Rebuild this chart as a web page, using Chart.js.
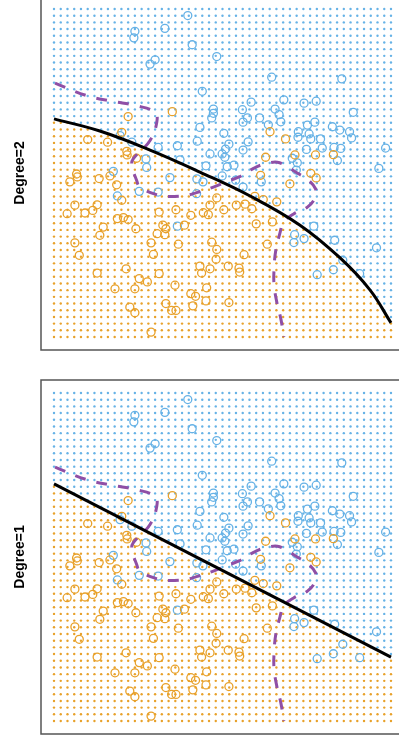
<!DOCTYPE html>
<html>
<head>
<meta charset="utf-8">
<script src="https://cdn.jsdelivr.net/npm/chart.js@4.4.1/dist/chart.umd.min.js"></script>
<style>
  html, body { margin: 0; padding: 0; background: #fff; overflow: hidden; width: 399px; height: 743px; }
  .panel { position: absolute; left: 0; width: 420px; height: 370px; }
  .label {
    position: absolute; white-space: nowrap; color: #000;
    font: bold 14px "Liberation Sans", Arial, sans-serif;
    transform: translate(-50%, -50%) rotate(-90deg);
  }
</style>
</head>
<body>
<div class="panel" style="top:-12px"><canvas id="deg2" width="420" height="370"></canvas></div>
<div class="panel" style="top:372px"><canvas id="deg1" width="420" height="370"></canvas></div>
<div class="label" style="left:19px;top:173px">Degree=2</div>
<div class="label" style="left:19px;top:557px">Degree=1</div>
<script>
const ORANGE = '#E8A12A';
const BLUE = '#66B2E6';
const PURPLE = '#8F4FA6';

// training observations, class "blue"
const blueX = [39.7, 32.9, 24.0, 23.7, 41.0, 48.3, 30.0, 28.5, 44.0, 47.3, 47.3, 46.8, 43.3, 19.6, 23.1,
  30.9, 36.6, 42.5, 46.3, 37.4, 27.3, 27.5, 45.1, 17.6, 64.6, 85.4, 68.2, 58.5, 74.2, 77.8, 55.9, 65.6,
  88.8, 66.8, 57.4, 61.0, 56.1, 67.3, 63.6, 75.2, 77.4, 82.6, 84.8, 87.7, 50.4, 72.5, 75.7, 72.4, 76.2,
  79.1, 88.3, 57.6, 51.9, 50.9, 49.9, 50.7, 56.1, 74.9, 79.6, 83.1, 85.1, 98.4, 84.1, 70.7, 72.2, 71.9,
  96.4, 53.4, 51.4, 34.4, 25.3, 30.9, 18.8, 42.4, 44.2, 42.3, 36.6, 49.9, 53.9, 56.1, 61.5, 77.1, 71.4,
  74.2, 71.2, 83.3, 95.7, 85.7, 82.9, 90.7, 78.1];
const blueY = [98.0, 94.1, 93.2, 91.2, 89.1, 85.5, 84.5, 83.2, 74.9, 69.5, 68.2, 66.8, 63.9, 61.4, 59.4,
  57.8, 58.3, 59.7, 55.8, 54.0, 54.3, 51.7, 52.2, 50.5, 79.2, 78.7, 72.3, 71.6, 71.3, 71.9, 69.3, 69.5,
  68.5, 67.8, 66.8, 66.8, 65.5, 65.6, 64.7, 64.6, 65.5, 64.1, 63.1, 62.6, 62.1, 62.6, 61.9, 60.9, 60.4,
  60.4, 60.7, 59.5, 58.8, 57.3, 55.8, 54.8, 57.0, 57.2, 57.6, 57.8, 57.5, 57.6, 53.8, 54.5, 53.1, 50.9,
  51.4, 52.4, 51.9, 48.6, 44.4, 44.2, 43.0, 48.2, 47.3, 43.7, 33.8, 49.1, 47.8, 45.7, 47.3, 33.8, 31.2,
  30.0, 28.8, 29.5, 27.2, 23.4, 20.5, 19.3, 19.0];

// training observations, class "orange"
const orangeX = [35.1, 22.0, 20.1, 10.0, 15.9, 21.6, 21.7, 24.5, 6.7, 64.1, 68.7, 62.8, 71.5, 77.6, 82.9,
  76.2, 4.7, 6.9, 13.4, 16.6, 18.6, 20.1, 6.2, 3.9, 9.2, 11.5, 12.8, 18.8, 20.6, 22.0, 31.2, 36.2, 40.6,
  44.3, 45.8, 46.3, 48.3, 14.6, 24.3, 32.3, 33.2, 30.6, 32.9, 38.7, 13.6, 6.2, 28.8, 36.9, 46.8, 7.5,
  29.5, 48.3, 48.1, 21.4, 43.3, 43.8, 46.3, 12.8, 31.2, 25.3, 27.7, 35.9, 24.0, 18.1, 45.3, 40.6, 42.0,
  45.1, 33.2, 41.2, 22.5, 24.0, 34.9, 36.2, 28.8, 61.3, 77.8, 70.0, 59.6, 62.1, 66.1, 54.1, 56.7, 58.7,
  50.4, 60.0, 64.8, 63.3, 56.4, 51.7, 54.9, 55.1, 51.9];
const orangeY = [68.7, 67.2, 62.4, 60.2, 59.4, 56.6, 55.5, 54.5, 49.7, 62.6, 60.4, 54.8, 55.5, 55.5, 55.6,
  49.9, 47.3, 48.8, 48.3, 49.1, 46.4, 41.7, 40.2, 37.6, 37.8, 38.6, 40.3, 36.1, 36.4, 35.8, 38.1, 38.8, 37.1,
  37.9, 37.3, 40.2, 42.4, 33.5, 33.0, 34.1, 33.0, 31.5, 31.2, 34.1, 31.0, 28.7, 28.7, 28.3, 28.9, 24.9,
  25.2, 26.7, 23.7, 20.8, 21.6, 19.5, 20.8, 19.5, 19.3, 17.8, 16.8, 15.8, 14.7, 14.7, 15.0, 13.2, 12.4,
  11.0, 10.2, 9.5, 9.1, 7.4, 8.1, 8.1, 1.5, 49.3, 48.5, 46.7, 42.9, 41.9, 41.2, 40.2, 40.5, 39.1,
  38.8, 34.5, 35.1, 28.3, 25.1, 21.6, 21.0, 19.8, 10.5];

// Bayes decision boundary
const bayesX = [0.3, 9.7, 17.1, 24.5, 30.0, 30.5, 28.5, 23.5, 23.1, 24.5, 25.5, 30.9, 32.9, 38.4, 42.3,
  47.3, 52.4, 54.9, 58.8, 62.3, 66.3, 68.7, 72.7, 75.1, 77.6, 77.6, 75.2, 71.2, 68.2, 67.0, 65.8, 65.3,
  65.3, 66.3, 67.3, 68.2];
const bayesY = [77.4, 73.6, 71.9, 70.5, 68.5, 65.5, 59.9, 54.3, 52.2, 47.8, 45.7, 43.2, 42.9, 43.0, 44.0,
  45.7, 47.8, 48.8, 51.2, 52.7, 53.3, 52.2, 49.7, 48.2, 45.2, 42.7, 39.6, 37.6, 35.1, 31.5, 26.4, 20.8,
  15.8, 9.7, 5.6, 0.0];

// logistic regression boundaries
const fit1X = [0, 100];
const fit1Y = [72.3, 19.5];
const fit2X = [0, 13.6, 28.5, 43.3, 58.2, 73.0, 84.9, 93.8, 100];
const fit2Y = [66.5, 62.8, 57.0, 50.3, 43.0, 34.1, 24.1, 14.3, 4.3];

// prediction lattice
const gridCols = 51;
const gridRows = 50;

const pairs = (xs, ys) => xs.map((x, i) => ({ x, y: ys[i] }));

function boundaryAt(xs, ys, x) {
  for (let i = 1; i < xs.length; i++) {
    if (x <= xs[i]) {
      const t = (x - xs[i - 1]) / (xs[i] - xs[i - 1]);
      return ys[i - 1] + t * (ys[i] - ys[i - 1]);
    }
  }
  return ys[ys.length - 1];
}

function classifyGrid(fx, fy) {
  const above = [], below = [];
  for (let c = 0; c < gridCols; c++) {
    const x = c * 100 / (gridCols - 1);
    const yb = boundaryAt(fx, fy, x);
    for (let r = 0; r < gridRows; r++) {
      const y = r * 100 / (gridRows - 1);
      (y > yb ? above : below).push({ x, y });
    }
  }
  return { above, below };
}

const frame = {
  id: 'frame',
  afterDraw(chart) {
    const { ctx, chartArea: a } = chart;
    ctx.save();
    ctx.strokeStyle = '#555';
    ctx.lineWidth = 1.5;
    ctx.strokeRect(a.left, a.top, a.right - a.left, a.bottom - a.top);
    ctx.restore();
  }
};

function makeChart(id, fx, fy) {
  const grid = classifyGrid(fx, fy);
  return new Chart(document.getElementById(id), {
    type: 'scatter',
    data: {
      datasets: [
        { data: pairs(fx, fy), showLine: true, borderColor: '#000', borderWidth: 3,
          pointRadius: 0, tension: fx.length > 2 ? 0.4 : 0, order: 0 },
        { data: pairs(bayesX, bayesY), showLine: true, borderColor: PURPLE, borderWidth: 3,
          borderDash: [11, 11], pointRadius: 0, tension: 0.4, order: 0 },
        { data: pairs(orangeX, orangeY), pointRadius: 4, borderWidth: 1.3,
          borderColor: ORANGE, backgroundColor: 'rgba(0,0,0,0)', order: 1 },
        { data: pairs(blueX, blueY), pointRadius: 4, borderWidth: 1.3,
          borderColor: BLUE, backgroundColor: 'rgba(0,0,0,0)', order: 1 },
        { data: grid.below, pointRadius: 1.2, borderWidth: 0, backgroundColor: ORANGE, order: 2 },
        { data: grid.above, pointRadius: 1.2, borderWidth: 0, backgroundColor: BLUE, order: 2 }
      ]
    },
    options: {
      responsive: false,
      animation: false,
      layout: { padding: { left: 41, right: 16, top: 8, bottom: 8 } },
      plugins: { legend: { display: false }, tooltip: { enabled: false } },
      scales: {
        x: { display: false, min: -3.86, max: 103.86 },
        y: { display: false, min: -3.96, max: 103.96 }
      }
    },
    plugins: [frame]
  });
}

makeChart('deg2', fit2X, fit2Y);
makeChart('deg1', fit1X, fit1Y);
</script>
</body>
</html>
